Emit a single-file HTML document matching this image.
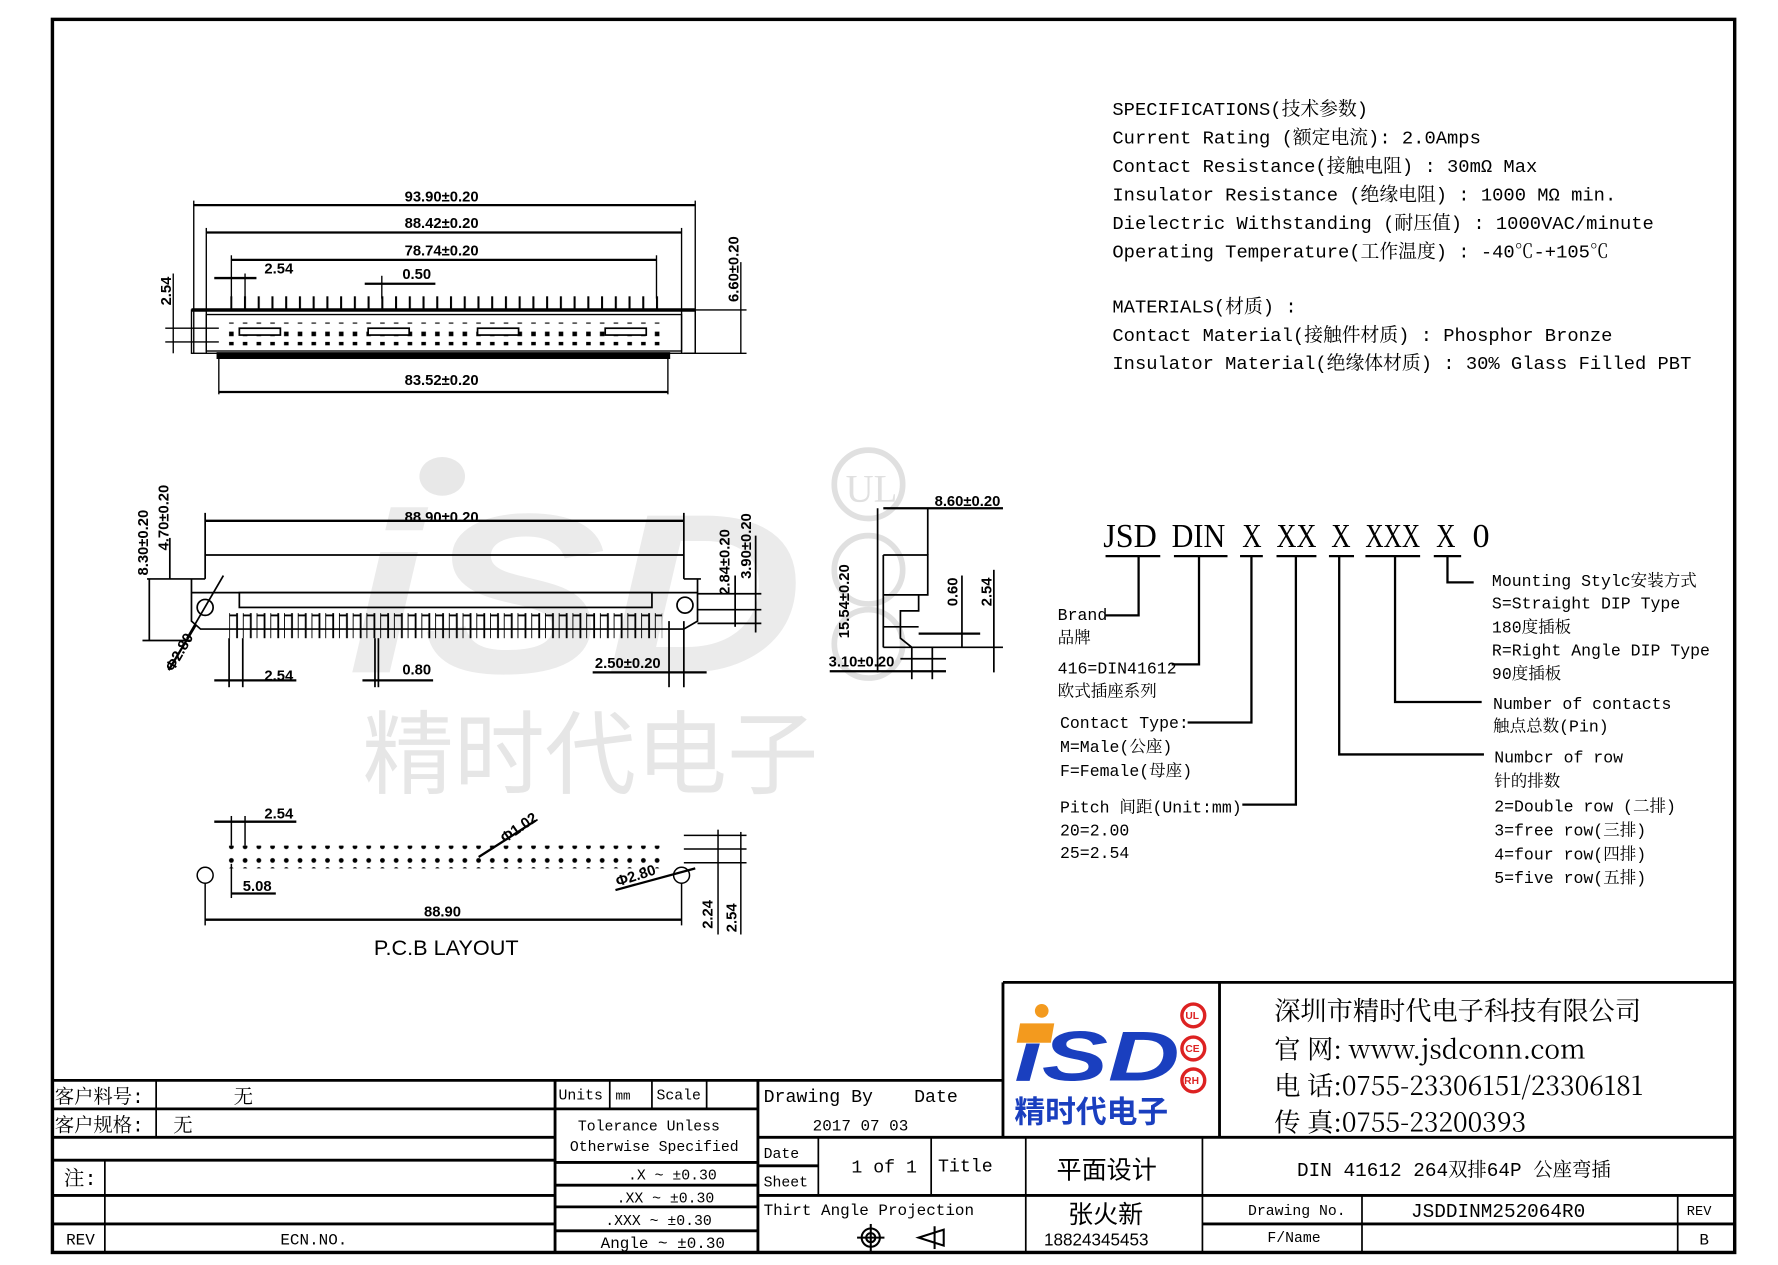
<!DOCTYPE html>
<html><head><meta charset="utf-8"><style>
html,body{margin:0;padding:0;background:#fff;}
svg{display:block;}
.m{font-family:"Liberation Mono","Noto Serif CJK SC",monospace;}
.s{font-family:"Liberation Sans","Noto Sans CJK SC",sans-serif;font-weight:bold;}
.c{font-family:"Liberation Serif","Noto Serif CJK SC",serif;}
</style></head><body>
<svg width="1778" height="1265" viewBox="0 0 1560 1110" preserveAspectRatio="none" xmlns="http://www.w3.org/2000/svg">
<defs>
<pattern id="pinT" patternUnits="userSpaceOnUse" x="202" y="0" width="12.05" height="20"><rect x="0" y="0" width="1.8" height="20" fill="#000"/></pattern>
<pattern id="pinS" patternUnits="userSpaceOnUse" x="201" y="0" width="12.05" height="30"><rect x="0" y="0" width="7" height="30" fill="none" stroke="#000" stroke-width="1.6"/></pattern>
<pattern id="dotP" patternUnits="userSpaceOnUse" x="200" y="0" width="12.05" height="20"><circle cx="3" cy="3" r="2.1" fill="#000"/><circle cx="3" cy="15" r="2.1" fill="#000"/></pattern>
<pattern id="dash" patternUnits="userSpaceOnUse" x="200" y="0" width="12.05" height="20"><rect x="1" y="0" width="4" height="4" fill="#000"/><rect x="1" y="11" width="4" height="4" fill="#000"/></pattern>
</defs>
<rect x="0" y="0" width="1560" height="1110" fill="#fff"/>
<!-- watermark -->
<g fill="#e8e8e8">
<ellipse cx="388" cy="418" rx="20" ry="17"/>
<text x="305" y="590" font-family="Liberation Sans" font-weight="bold" font-style="italic" font-size="200" fill="#ebebeb" textLength="400" lengthAdjust="spacingAndGlyphs">iSD</text>
<text x="318" y="690" font-family="Noto Sans CJK SC" font-size="80" fill="#e6e6e6">精时代电子</text>
</g>
<g fill="none" stroke="#e0e0e0" stroke-width="5"><circle cx="762" cy="425" r="30"/><circle cx="762" cy="500" r="30"/><circle cx="762" cy="565" r="30"/></g>
<text x="742" y="440" class="c" font-size="34" fill="#e0e0e0">UL</text>

<!-- border -->
<rect x="46" y="17" width="1476" height="1082" fill="none" stroke="#000" stroke-width="3"/>

<!-- specs -->
<g class="m" font-size="16.5" fill="#000">
<text x="976" y="101">SPECIFICATIONS(技术参数)</text>
<text x="976" y="126">Current Rating (额定电流):  2.0Amps</text>
<text x="976" y="151">Contact Resistance(接触电阻) : 30mΩ Max</text>
<text x="976" y="176">Insulator Resistance (绝缘电阻) : 1000 MΩ min.</text>
<text x="976" y="201">Dielectric Withstanding (耐压值) : 1000VAC/minute</text>
<text x="976" y="226">Operating Temperature(工作温度) : -40℃-+105℃</text>
<text x="976" y="274">MATERIALS(材质) :</text>
<text x="976" y="299">Contact Material(接触件材质) :   Phosphor Bronze</text>
<text x="976" y="324" textLength="508">Insulator Material(绝缘体材质) : 30% Glass Filled PBT</text>
</g>

<!-- TOP VIEW -->
<g stroke="#000" stroke-width="1.2" fill="none">
<line x1="170" y1="176" x2="170" y2="310"/><line x1="610" y1="176" x2="610" y2="310"/>
<line x1="181" y1="200" x2="181" y2="310"/><line x1="598" y1="200" x2="598" y2="310"/>
<line x1="203" y1="224" x2="203" y2="262"/><line x1="576" y1="224" x2="576" y2="262"/>
<line x1="215" y1="240" x2="215" y2="262"/><line x1="335" y1="242" x2="335" y2="262"/>
<line x1="192" y1="310" x2="192" y2="346"/><line x1="586" y1="310" x2="586" y2="346"/>
<rect x="168" y="272" width="442" height="38"/>
<rect x="181" y="276" width="417" height="32"/>
<line x1="145" y1="288" x2="192" y2="288"/><line x1="145" y1="300" x2="192" y2="300"/>
<line x1="152" y1="240" x2="152" y2="310"/>
<line x1="600" y1="272" x2="655" y2="272"/><line x1="600" y1="310" x2="655" y2="310"/>
<line x1="650" y1="230" x2="650" y2="310"/>
</g>
<g stroke="#000" stroke-width="2">
<line x1="170" y1="180" x2="610" y2="180"/><line x1="181" y1="204" x2="598" y2="204"/>
<line x1="203" y1="228" x2="576" y2="228"/><line x1="188" y1="244" x2="225" y2="244"/>
<line x1="320" y1="249" x2="382" y2="249"/><line x1="192" y1="344" x2="586" y2="344"/>
<line x1="168" y1="272" x2="610" y2="272" stroke-width="3"/>
</g>
<rect x="190" y="309" width="398" height="6" fill="#000"/>
<rect x="202" y="260" width="377" height="12" fill="url(#pinT)"/>
<rect x="200" y="283" width="380" height="20" fill="url(#dash)"/>
<g fill="#fff" stroke="#000" stroke-width="1.5">
<rect x="210" y="288" width="36" height="6"/><rect x="323" y="288" width="36" height="6"/>
<rect x="419" y="288" width="36" height="6"/><rect x="531" y="288" width="36" height="6"/>
</g>
<g class="s" font-size="13" fill="#000">
<text x="355" y="177">93.90±0.20</text><text x="355" y="200">88.42±0.20</text>
<text x="355" y="224">78.74±0.20</text><text x="232" y="240">2.54</text><text x="353" y="245">0.50</text>
<text x="355" y="338">83.52±0.20</text>
<text transform="translate(150,268) rotate(-90)">2.54</text>
<text transform="translate(648,265) rotate(-90)">6.60±0.20</text>
</g>

<!-- SIDE VIEW -->
<g stroke="#000" stroke-width="1.5" fill="none">
<line x1="180" y1="450" x2="180" y2="508"/><line x1="600" y1="450" x2="600" y2="508"/>
<line x1="180" y1="487" x2="600" y2="487"/>
<polyline points="129,508 180,508"/><polyline points="600,508 615,508"/>
<polyline points="168,508 168,545 176,552 600,552 612,545 612,508"/>
<line x1="168" y1="520" x2="612" y2="520"/>
<rect x="210" y="520" width="362" height="13"/>
<circle cx="180" cy="533" r="7"/><circle cx="601" cy="531" r="7"/>
<line x1="164" y1="560" x2="196" y2="505"/>
<line x1="149" y1="472" x2="149" y2="508"/><line x1="131" y1="508" x2="131" y2="562"/>
<line x1="125" y1="562" x2="168" y2="562"/>
<line x1="612" y1="521" x2="668" y2="521"/><line x1="612" y1="535" x2="668" y2="535"/><line x1="612" y1="547" x2="668" y2="547"/>
<line x1="645" y1="505" x2="645" y2="550"/><line x1="663" y1="470" x2="663" y2="555"/>
<line x1="201" y1="560" x2="201" y2="603"/><line x1="213" y1="560" x2="213" y2="603"/>
<line x1="329" y1="560" x2="329" y2="603"/><line x1="332" y1="560" x2="332" y2="603"/>
<line x1="587" y1="545" x2="587" y2="603"/><line x1="600" y1="545" x2="600" y2="603"/>
</g>
<g stroke="#000" stroke-width="2">
<line x1="180" y1="457" x2="600" y2="457"/>
<line x1="188" y1="597" x2="260" y2="597"/><line x1="318" y1="597" x2="380" y2="597"/>
<line x1="520" y1="590" x2="620" y2="590"/>
<line x1="148" y1="588" x2="172" y2="548"/>
</g>
<rect x="201" y="538" width="380" height="22" fill="url(#pinS)"/>
<g class="s" font-size="13" fill="#000">
<text x="355" y="458">88.90±0.20</text>
<text x="232" y="597">2.54</text><text x="353" y="592">0.80</text><text x="522" y="586">2.50±0.20</text>
<text transform="translate(130,505) rotate(-90)">8.30±0.20</text>
<text transform="translate(148,483) rotate(-90)">4.70±0.20</text>
<text transform="translate(640,522) rotate(-90)">2.84±0.20</text>
<text transform="translate(659,508) rotate(-90)">3.90±0.20</text>
<text transform="translate(152,590) rotate(-60)">Φ2.80</text>
</g>

<!-- right small view -->
<g stroke="#000" stroke-width="1.5" fill="none">
<line x1="770" y1="446" x2="770" y2="590"/>
<polyline points="775,487 814,487 814,522 806,522 806,536 790,536 790,550"/>
<line x1="775" y1="487" x2="775" y2="568"/>
<line x1="775" y1="522" x2="806" y2="522"/>
<line x1="775" y1="550" x2="806" y2="550"/>
<line x1="775" y1="568" x2="880" y2="568"/>
<polyline points="790,550 790,560 800,568"/>
<line x1="814" y1="446" x2="814" y2="487"/>
<line x1="790" y1="578" x2="830" y2="578"/>
<line x1="844" y1="505" x2="844" y2="568"/><line x1="872" y1="500" x2="872" y2="590"/>
<line x1="800" y1="568" x2="800" y2="596"/><line x1="818" y1="568" x2="818" y2="596"/>
</g>
<g stroke="#000" stroke-width="2">
<line x1="775" y1="446" x2="880" y2="446"/><line x1="806" y1="556" x2="860" y2="556"/>
<line x1="728" y1="589" x2="830" y2="589"/>
</g>
<g class="s" font-size="13" fill="#000">
<text x="820" y="444">8.60±0.20</text><text x="727" y="585">3.10±0.20</text>
<text transform="translate(745,560) rotate(-90)">15.54±0.20</text>
<text transform="translate(840,532) rotate(-90)">0.60</text>
<text transform="translate(870,532) rotate(-90)">2.54</text>
</g>

<!-- PCB LAYOUT -->
<rect x="200" y="742" width="380" height="20" fill="url(#dotP)"/>
<g stroke="#000" stroke-width="1.3" fill="none">
<circle cx="180" cy="768" r="7"/><circle cx="598" cy="768" r="7"/>
<line x1="203" y1="716" x2="203" y2="742"/><line x1="215" y1="716" x2="215" y2="742"/>
<line x1="180" y1="775" x2="180" y2="812"/><line x1="598" y1="775" x2="598" y2="812"/>
<line x1="203" y1="758" x2="203" y2="788"/>
<line x1="600" y1="733" x2="655" y2="733"/><line x1="600" y1="745" x2="655" y2="745"/><line x1="600" y1="757" x2="655" y2="757"/>
<line x1="630" y1="728" x2="630" y2="820"/><line x1="650" y1="730" x2="650" y2="820"/>
</g>
<g stroke="#000" stroke-width="2">
<line x1="188" y1="721" x2="260" y2="721"/><line x1="203" y1="784" x2="242" y2="784"/>
<line x1="180" y1="807" x2="598" y2="807"/>
<line x1="420" y1="752" x2="470" y2="720"/><line x1="540" y1="781" x2="610" y2="762"/>
</g>
<g class="s" font-size="13" fill="#000">
<text x="232" y="718">2.54</text><text x="213" y="782">5.08</text><text x="372" y="804">88.90</text>
<text transform="translate(443,740) rotate(-35)">Φ1.02</text>
<text transform="translate(542,778) rotate(-18)">Φ2.80</text>
<text transform="translate(625,815) rotate(-90)">2.24</text>
<text transform="translate(646,818) rotate(-90)">2.54</text>
</g>
<text x="328" y="838" font-family="Liberation Sans" font-size="19" fill="#000">P.C.B LAYOUT</text>

<!-- CODING -->
<g class="c" font-size="30" fill="#000" lengthAdjust="spacingAndGlyphs">
<text x="968" y="480" textLength="47" lengthAdjust="spacingAndGlyphs">JSD</text>
<text x="1028" y="480" textLength="47" lengthAdjust="spacingAndGlyphs">DIN</text>
<text x="1090" y="480" textLength="17" lengthAdjust="spacingAndGlyphs">X</text>
<text x="1120" y="480" textLength="35" lengthAdjust="spacingAndGlyphs">XX</text>
<text x="1168" y="480" textLength="17" lengthAdjust="spacingAndGlyphs">X</text>
<text x="1198" y="480" textLength="48" lengthAdjust="spacingAndGlyphs">XXX</text>
<text x="1260" y="480" textLength="17" lengthAdjust="spacingAndGlyphs">X</text>
<text x="1292" y="480" textLength="15" lengthAdjust="spacingAndGlyphs">0</text>
</g>
<g stroke="#000" stroke-width="2" fill="none">
<line x1="970" y1="488" x2="1018" y2="488"/><line x1="1030" y1="488" x2="1077" y2="488"/>
<line x1="1088" y1="488" x2="1108" y2="488"/><line x1="1120" y1="488" x2="1155" y2="488"/>
<line x1="1166" y1="488" x2="1188" y2="488"/><line x1="1198" y1="488" x2="1246" y2="488"/>
<line x1="1258" y1="488" x2="1282" y2="488"/>
<polyline points="999,488 999,540 970,540"/>
<polyline points="1052,488 1052,583 1028,583"/>
<polyline points="1098,488 1098,634 1042,634"/>
<polyline points="1137,488 1137,706 1090,706"/>
<polyline points="1175,488 1175,662 1302,662"/>
<polyline points="1224,488 1224,616 1300,616"/>
<polyline points="1270,488 1270,511 1293,511"/>
</g>
<g class="m" font-size="14.5" fill="#000">
<text x="928" y="544">Brand</text><text x="928" y="564">品牌</text>
<text x="928" y="591">416=DIN41612</text><text x="928" y="611">欧式插座系列</text>
<text x="930" y="639">Contact Type:</text><text x="930" y="660">M=Male(公座)</text><text x="930" y="681">F=Female(母座)</text>
<text x="930" y="713">Pitch 间距(Unit:mm)</text><text x="930" y="733">20=2.00</text><text x="930" y="753">25=2.54</text>
<text x="1309" y="514">Mounting Stylc安装方式</text><text x="1309" y="534">S=Straight DIP Type</text>
<text x="1309" y="555">180度插板</text><text x="1309" y="575">R=Right Angle DIP Type</text><text x="1309" y="596">90度插板</text>
<text x="1310" y="622">Number of contacts</text><text x="1310" y="642">触点总数(Pin)</text>
<text x="1311" y="669">Numbcr of row</text><text x="1311" y="690">针的排数</text>
<text x="1311" y="712">2=Double row (二排)</text><text x="1311" y="733">3=free row(三排)</text>
<text x="1311" y="754">4=four row(四排)</text><text x="1311" y="775">5=five row(五排)</text>
</g>

<!-- TITLE BLOCK -->
<g stroke="#000" stroke-width="2.5" fill="none">
<line x1="46" y1="948" x2="880" y2="948"/>
<line x1="880" y1="862" x2="1522" y2="862"/>
<line x1="880" y1="862" x2="880" y2="998"/><line x1="1070" y1="862" x2="1070" y2="998"/>
<line x1="665" y1="998" x2="1522" y2="998"/>
<line x1="665" y1="948" x2="665" y2="1099"/>
<line x1="487" y1="948" x2="487" y2="1099"/>
<line x1="46" y1="973" x2="487" y2="973"/>
<line x1="487" y1="973" x2="665" y2="973"/>
<line x1="46" y1="998" x2="487" y2="998"/>
<line x1="46" y1="1018" x2="487" y2="1018"/>
<line x1="46" y1="1049" x2="487" y2="1049"/>
<line x1="46" y1="1074" x2="487" y2="1074"/>
<line x1="487" y1="1020" x2="665" y2="1020"/><line x1="487" y1="1040" x2="665" y2="1040"/>
<line x1="487" y1="1059" x2="665" y2="1059"/><line x1="487" y1="1080" x2="665" y2="1080"/>
<line x1="665" y1="1049" x2="1522" y2="1049"/>
<line x1="665" y1="1023" x2="718" y2="1023"/>
<line x1="1055" y1="1074" x2="1522" y2="1074"/>
</g>
<g stroke="#000" stroke-width="1.5" fill="none">
<line x1="137" y1="948" x2="137" y2="998"/><line x1="92" y1="1018" x2="92" y2="1099"/>
<line x1="535" y1="948" x2="535" y2="973"/><line x1="572" y1="948" x2="572" y2="973"/><line x1="620" y1="948" x2="620" y2="973"/>
<line x1="718" y1="998" x2="718" y2="1049"/><line x1="817" y1="998" x2="817" y2="1049"/>
<line x1="900" y1="998" x2="900" y2="1099"/><line x1="1055" y1="998" x2="1055" y2="1099"/>
<line x1="1195" y1="1049" x2="1195" y2="1099"/><line x1="1472" y1="1049" x2="1472" y2="1099"/>
</g>
<g class="m" fill="#000" font-size="15">
<text x="48" y="968" font-size="17">客户料号:</text><text x="205" y="968" font-size="17">无</text>
<text x="48" y="993" font-size="17">客户规格:</text><text x="152" y="993" font-size="17">无</text>
<text x="56" y="1040" font-size="18">注:</text>
<text x="58" y="1092" font-size="14">REV</text><text x="246" y="1092" font-size="14">ECN.NO.</text>
<text x="490" y="965" font-size="13">Units</text><text x="540" y="965" font-size="11">mm</text><text x="576" y="965" font-size="13">Scale</text>
<text x="507" y="992" font-size="13">Tolerance Unless</text><text x="500" y="1010" font-size="13">Otherwise Specified</text>
<text x="551" y="1035" font-size="13">.X  ~  ±0.30</text>
<text x="541" y="1055" font-size="13">.XX  ~  ±0.30</text>
<text x="531" y="1075" font-size="13">.XXX  ~  ±0.30</text>
<text x="527" y="1095" font-size="14">Angle ~  ±0.30</text>
<text x="670" y="967" font-size="16">Drawing By</text><text x="802" y="967" font-size="16">Date</text>
<text x="713" y="992" font-size="14">2017  07  03</text>
<text x="670" y="1016" font-size="13">Date</text><text x="670" y="1041" font-size="13">Sheet</text>
<text x="747" y="1029" font-size="16">1 of 1</text><text x="823" y="1028" font-size="16">Title</text>
<text x="670" y="1066" font-size="14">Thirt Angle Projection</text>
<text x="1138" y="1032" font-size="17">DIN  41612 264双排64P 公座弯插</text>
<text x="1095" y="1066" font-size="13">Drawing No.</text><text x="1238" y="1068" font-size="17">JSDDINM252064R0</text>
<text x="1480" y="1066" font-size="12">REV</text>
<text x="1112" y="1090" font-size="13">F/Name</text><text x="1491" y="1092" font-size="14">B</text>
</g>
<text x="927" y="1034" font-family="Noto Sans CJK SC" font-size="22" fill="#000">平面设计</text>
<text x="937" y="1073" font-family="Noto Sans CJK SC" font-size="22" fill="#000">张火新</text>
<text x="916" y="1093" font-family="Liberation Sans" font-size="15" fill="#000">18824345453</text>
<!-- projection symbol -->
<g stroke="#000" stroke-width="1.8" fill="none">
<circle cx="764" cy="1086" r="8"/><circle cx="764" cy="1086" r="4"/>
<line x1="752" y1="1086" x2="776" y2="1086"/><line x1="764" y1="1074" x2="764" y2="1098"/>
<polygon points="806,1086 828,1079 828,1093"/><line x1="820" y1="1076" x2="820" y2="1096"/>
</g>
<!-- logo -->
<circle cx="914" cy="887" r="6" fill="#f39a1e"/>
<text x="890" y="948" font-family="Liberation Sans" font-weight="bold" font-style="italic" font-size="62" fill="#1a3fbf" textLength="145" lengthAdjust="spacingAndGlyphs">iSD</text>
<polygon points="895,898 925,898 922,915 892,915" fill="#f39a1e"/>
<text x="890" y="985" font-family="Noto Sans CJK SC" font-weight="bold" font-size="27" fill="#1a3fbf">精时代电子</text>
<g fill="#fff" stroke="#d22" stroke-width="3"><circle cx="1047" cy="891" r="10"/><circle cx="1047" cy="920" r="10"/><circle cx="1047" cy="948" r="10"/></g>
<g font-family="Liberation Sans" font-size="9" font-weight="bold" fill="#d22">
<text x="1040" y="894">UL</text><text x="1040" y="923">CE</text><text x="1039" y="951">RH</text></g>
<g font-family="Noto Serif CJK SC" font-size="23" fill="#000">
<text x="1118" y="895">深圳市精时代电子科技有限公司</text>
<text x="1118" y="929">官    网: www.jsdconn.com</text>
<text x="1118" y="961">电    话:0755-23306151/23306181</text>
<text x="1118" y="993">传    真:0755-23200393</text>
</g>
</svg>
</body></html>
